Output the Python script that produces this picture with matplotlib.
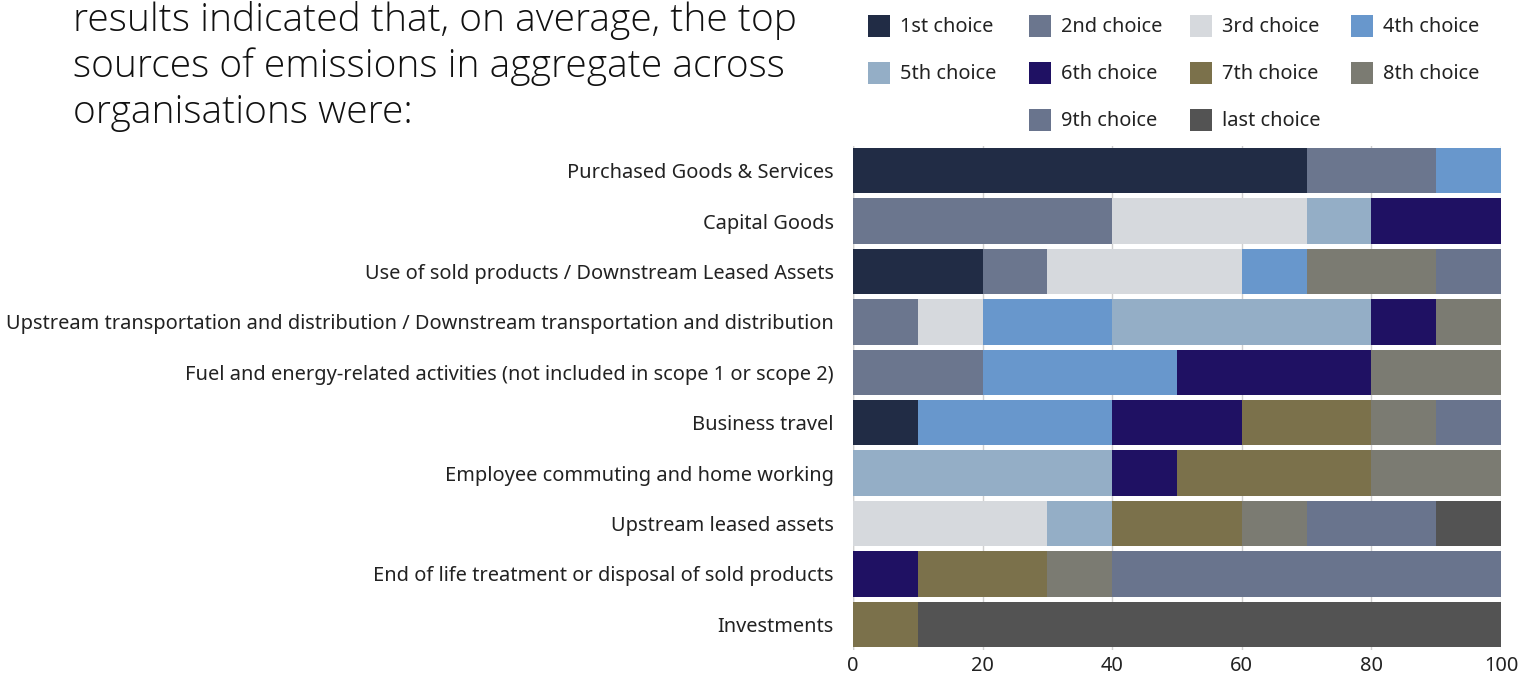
import matplotlib
matplotlib.use("Agg")
import matplotlib.pyplot as plt
from matplotlib.patches import Rectangle
import numpy as np

categories = [
    "Purchased Goods & Services",
    "Capital Goods",
    "Use of sold products / Downstream Leased Assets",
    "Upstream transportation and distribution / Downstream transportation and distribution",
    "Fuel and energy-related activities (not included in scope 1 or scope 2)",
    "Business travel",
    "Employee commuting and home working",
    "Upstream leased assets",
    "End of life treatment or disposal of sold products",
    "Investments",
]

series_names = ["1st choice", "2nd choice", "3rd choice", "4th choice", "5th choice",
                "6th choice", "7th choice", "8th choice", "9th choice", "last choice"]

# share of respondents (%) per category, one list per ranking choice
first_choice = [70, 0, 20, 0, 0, 10, 0, 0, 0, 0]
second_choice = [20, 40, 10, 10, 20, 0, 0, 0, 0, 0]
third_choice = [0, 30, 30, 10, 0, 0, 0, 30, 0, 0]
fourth_choice = [10, 0, 10, 20, 30, 30, 0, 0, 0, 0]
fifth_choice = [0, 10, 0, 40, 0, 0, 40, 10, 0, 0]
sixth_choice = [0, 20, 0, 10, 30, 20, 10, 0, 10, 0]
seventh_choice = [0, 0, 0, 0, 0, 20, 30, 20, 20, 10]
eighth_choice = [0, 0, 20, 10, 20, 10, 20, 10, 10, 0]
ninth_choice = [0, 0, 10, 0, 0, 10, 0, 20, 60, 0]
last_choice = [0, 0, 0, 0, 0, 0, 0, 10, 0, 90]

series_values = [first_choice, second_choice, third_choice, fourth_choice, fifth_choice,
                 sixth_choice, seventh_choice, eighth_choice, ninth_choice, last_choice]

colors = ["#212c45", "#6b768e", "#d6d9dd", "#6897cc", "#94aec6",
          "#1f1163", "#7b714b", "#7b7b72", "#69748d", "#535353"]

x_ticks = [0, 20, 40, 60, 80, 100]

W, H = 1523, 677
fig = plt.figure(figsize=(W / 100, H / 100), dpi=100)
label_font = "Noto Sans"
label_size = 14.4

ax = fig.add_axes([853 / W, 1 - 649.5 / H, (1501 - 853) / W, (649.5 - 145.5) / H])

y = np.arange(len(categories))
left = np.zeros(len(categories))
for name, vals, col in zip(series_names, series_values, colors):
    vals = np.array(vals, dtype=float)
    ax.barh(y, vals, left=left, height=0.9, color=col, edgecolor="none",
            label=name, zorder=3)
    left += vals

ax.set_ylim(len(categories) - 0.5, -0.5)
ax.set_xlim(0, 100)
ax.set_xticks(x_ticks)
ax.set_xticklabels([str(t) for t in x_ticks], fontsize=label_size, family=label_font,
                   color="#222222")
ax.set_yticks(y)
ax.set_yticklabels(categories, fontsize=label_size, family=label_font, color="#222222",
                   va="center_baseline")
ax.tick_params(axis="y", length=0, pad=14)
ax.tick_params(axis="x", length=0, pad=5)
ax.grid(axis="x", color="#d0d0d0", linewidth=1.0, zorder=0)
ax.axvline(0, color="#d0d0d0", linewidth=1.0, zorder=0)
for s in ax.spines.values():
    s.set_visible(False)

# legend: three rows, last row centred under the middle columns
col_step = 161
for i, (name, col) in enumerate(zip(series_names, colors)):
    row = i // 4
    c = i % 4
    if row == 2:
        c += 1
    x0 = 868 + c * col_step
    yc = 26 + row * 47
    fig.patches.append(Rectangle((x0 / W, 1 - (yc + 11) / H), 22 / W, 22 / H,
                                 transform=fig.transFigure, facecolor=col,
                                 edgecolor="none"))
    fig.text((x0 + 32) / W, 1 - (yc + 1) / H, name, fontsize=label_size, family=label_font,
             color="#222222", va="center", ha="left")

title_lines = ["results indicated that, on average, the top",
               "sources of emissions in aggregate across",
               "organisations were:"]
for k, line in enumerate(title_lines):
    fig.text(73 / W, 1 - (20 + k * 46.5) / H, line, fontsize=28, family="Open Sans",
             fontweight="light", color="#111111", va="center", ha="left")

fig.savefig("out.png", dpi=100, facecolor="white")
